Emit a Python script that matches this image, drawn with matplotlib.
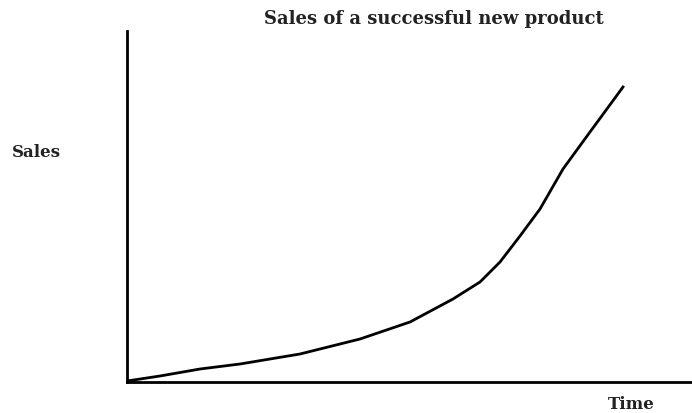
import matplotlib
matplotlib.use('Agg')
import matplotlib.pyplot as plt

# values (arbitrary units)
time = [0, 33, 73, 113, 173, 233, 283, 326, 353, 373, 393, 413, 436, 463, 496]
sales = [1, 6, 13, 18, 28, 43, 60, 83, 100, 120, 146, 173, 213, 250, 295]

fig = plt.figure(figsize=(6.92, 4.14), dpi=100)
ax = fig.add_axes([127/692, 31/414, 1 - 127/692, 351/414])

ax.plot(time, sales, color='black', lw=2, solid_joinstyle='round')
ax.set_xlim(0, 565)
ax.set_ylim(0, 351)
ax.set_xticks([])
ax.set_yticks([])
for s in ['top', 'right']:
    ax.spines[s].set_visible(False)
for s in ['left', 'bottom']:
    ax.spines[s].set_linewidth(2)

font = dict(family='DejaVu Serif', weight='bold', color='#222222')
fig.text(434/692, 1 - 19/414, 'Sales of a successful new product', ha='center', va='center', fontsize=13, **font)
fig.text(12/692, 1 - 153/414, 'Sales', ha='left', va='center', fontsize=12, **font)
fig.text(608/692, 1 - 405/414, 'Time', ha='left', va='center', fontsize=12, **font)

fig.savefig('out.png', dpi=100)
